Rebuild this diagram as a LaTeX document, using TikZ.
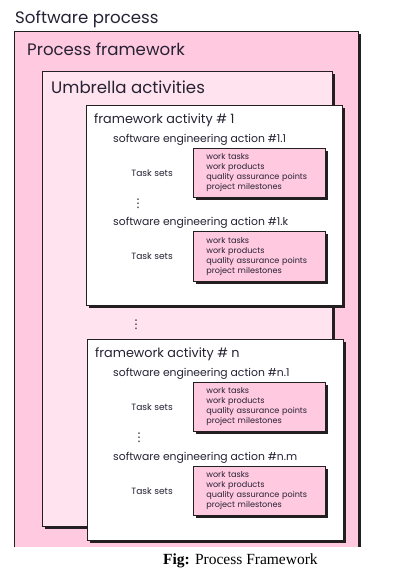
\documentclass[tikz,border=0pt]{standalone}
\usepackage{fontspec}
\setmainfont{Poppins}
\newfontfamily\capfont{Liberation Serif}
\newfontfamily\symfont{DejaVu Sans}
\usetikzlibrary{positioning,shadows}
\definecolor{deeppink}{RGB}{255,201,224}
\definecolor{palepink}{RGB}{255,227,238}
\definecolor{inkline}{RGB}{35,31,32}
\definecolor{inktext}{RGB}{38,34,52}

\begin{document}
\begin{tikzpicture}[x=1pt,y=-1pt,
		every node/.style={text=inktext},
		frame/.style={draw=inkline, line width=0.8pt, anchor=north west, inner sep=0pt,
			drop shadow={shadow xshift=3pt, shadow yshift=-3pt, fill=inkline, opacity=1}},
		taskbox/.style={frame, fill=deeppink, minimum width=132pt, minimum height=49pt,
			text width=106pt, inner xsep=13pt, align=left, font=\fontsize{8.1}{10}\selectfont},
		title/.style={anchor=base west, inner sep=0pt, font=\fontsize{16.6}{19}\selectfont},
		activity/.style={anchor=base west, inner sep=0pt, font=\fontsize{12.8}{15}\selectfont},
		action/.style={anchor=base west, inner sep=0pt, font=\fontsize{10.8}{13}\selectfont},
		tasklabel/.style={inner sep=0pt, font=\fontsize{9.1}{11}\selectfont},
		dots/.style={inner sep=0pt, font=\symfont\fontsize{12}{12}\selectfont}
		]
		\useasboundingbox (0,0) rectangle (400,578);
		
		% Process framework (cut off at the bottom)
		\node[anchor=north west, inner sep=0pt, fill=deeppink, minimum width=344pt, minimum height=516pt] (pf) at (14,31) {};
		\fill[inkline] ([yshift=-3pt]pf.north east) rectangle ([xshift=3pt]pf.south east);
		\draw[draw=inkline, line width=0.8pt] (pf.south west) |- (pf.north east) -- (pf.south east);
		
		% Umbrella activities
		\node[frame, fill=palepink, minimum width=290pt, minimum height=455pt] (ua) at (42,71) {};
		
		% framework activities
		\node[frame, fill=white, minimum width=256pt, minimum height=200pt] (fa1) at (86,105) {};
		\node[frame, fill=white, minimum width=256pt, minimum height=201pt] (fan) at (87,339) {};
		
		% titles
		\node[title] (sp) at (15,24) {Software process};
		\node[title] (pft) at (27,56) {Process framework};
		\node[title] (uat) at (51,93) {Umbrella activities};
		\node[activity] (fat1) at (94,123) {framework activity \# 1};
		\node[activity] (fatn) at (95,357) {framework activity \# n};
		
		% actions
		\node[action] (ac11) at (113,142) {software engineering action \#1.1};
		\node[action] (ac1k) at (113,225) {software engineering action \#1.k};
		\node[action] (acn1) at (113,376) {software engineering action \#n.1};
		\node[action] (acnm) at (113,460) {software engineering action \#n.m};
		
		% task sets
		\node[taskbox] (tb11) at (193,148) {work tasks\\work products\\quality assurance points\\project milestones};
		\node[taskbox, minimum height=50pt] (tb1k) at (193,231) {work tasks\\work products\\quality assurance points\\project milestones};
		\node[taskbox] (tbn1) at (193,382) {work tasks\\work products\\quality assurance points\\project milestones};
		\node[taskbox] (tbnm) at (193,466) {work tasks\\work products\\quality assurance points\\project milestones};
		
		\node[tasklabel, left=20pt of tb11] (ts11) {Task sets};
		\node[tasklabel, left=20pt of tb1k] (ts1k) {Task sets};
		\node[tasklabel, left=20pt of tbn1] (tsn1) {Task sets};
		\node[tasklabel, left=20pt of tbnm] (tsnm) {Task sets};
		
		% dots
		\node[dots] (d1) at (138,204) {⋮};
		\node[dots] (d2) at (136,325) {⋮};
		\node[dots] (d3) at (139,438) {⋮};
		
		% caption
		\node[anchor=base west, inner sep=0pt, text=black, font=\capfont\fontsize{15.5}{18}\selectfont] (cap) at (163,564) {\textbf{Fig:} Process Framework};
	\end{tikzpicture}
\end{document}
